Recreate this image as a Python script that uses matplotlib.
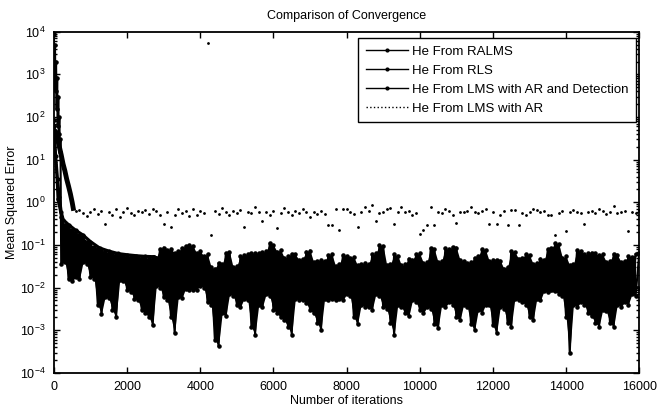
import numpy as np
import matplotlib
matplotlib.use('Agg')
import matplotlib.pyplot as plt
from matplotlib.lines import Line2D
from matplotlib.ticker import LogLocator, NullFormatter

plt.rcParams['font.family'] = ['Liberation Sans', 'DejaVu Sans']
plt.rcParams['mathtext.fontset'] = 'custom'
plt.rcParams['mathtext.rm'] = 'Liberation Sans'
plt.rcParams['mathtext.it'] = 'Liberation Sans'

# ---- data ----
# RALMS: sampled every 100 iterations (peaks / troughs of the noisy curve)
ralms_iter = np.arange(0, 16001, 100)
ralms_mse = [
    85, 1.2, 0.45, 0.04, 0.28, 0.014, 0.21, 0.016, 0.16, 0.035,
    0.11, 0.016, 0.085, 0.0024, 0.071, 0.0056, 0.063, 0.002, 0.058, 0.014,
    0.054, 0.0079, 0.051, 0.005, 0.05, 0.0025, 0.048, 0.0013, 0.05, 0.01,
    0.087, 0.005, 0.081, 0.00085, 0.071, 0.0056, 0.093, 0.0089, 0.095, 0.0089,
    0.071, 0.01, 0.06, 0.004, 0.028, 0.00042, 0.035, 0.0021, 0.068, 0.0063,
    0.032, 0.0035, 0.058, 0.005, 0.063, 0.00079, 0.063, 0.0035, 0.071, 0.0063,
    0.1, 0.0025, 0.076, 0.0017, 0.054, 0.00079, 0.06, 0.005, 0.047, 0.0043,
    0.074, 0.0025, 0.042, 0.001, 0.042, 0.005, 0.06, 0.005, 0.035, 0.005,
    0.055, 0.0063, 0.052, 0.0014, 0.035, 0.0035, 0.035, 0.003, 0.063, 0.0063,
    0.095, 0.0032, 0.035, 0.00079, 0.056, 0.0035, 0.035, 0.0021, 0.045, 0.0045,
    0.063, 0.0025, 0.04, 0.0032, 0.079, 0.0011, 0.042, 0.0035, 0.079, 0.004,
    0.087, 0.0017, 0.042, 0.0035, 0.04, 0.001, 0.054, 0.0025, 0.076, 0.0038,
    0.045, 0.00085, 0.043, 0.0032, 0.03, 0.0012, 0.068, 0.005, 0.05, 0.004,
    0.058, 0.0017, 0.038, 0.005, 0.045, 0.0079, 0.083, 0.0083, 0.105, 0.0063,
    0.054, 0.00029, 0.035, 0.0035, 0.071, 0.004, 0.063, 0.0021, 0.063, 0.0012,
    0.06, 0.0028, 0.042, 0.0012, 0.059, 0.0035, 0.042, 0.004, 0.052, 0.0063,
    0.063]

# RLS: smooth decay
rls_iter = [0, 50, 100, 150, 200, 256, 400, 600, 800, 1000, 1250, 1500, 1750,
            2000, 2250, 2500, 2750, 2800, 3000, 4000, 6000, 8000, 10000,
            12000, 13000, 13500, 14000, 15000, 16000]
rls_mse = [60, 12, 3.5, 1.3, 0.6, 0.39, 0.3, 0.22, 0.17, 0.12, 0.085, 0.072,
           0.063, 0.059, 0.056, 0.054, 0.053, 0.05, 0.025, 0.018, 0.014,
           0.012, 0.011, 0.01, 0.009, 0.0085, 0.008, 0.009, 0.01]

# LMS with AR and detection: large start, then every 100 iterations from 200
det_start_iter = [0, 15, 30, 45, 60, 75, 90, 105, 120, 135, 150, 165, 180]
det_start_mse = [9000, 1500, 5000, 400, 2000, 150, 800, 60, 300, 40, 100, 15, 30]
det_main_mse = [
    0.035, 0.3, 0.016, 0.22, 0.018, 0.17, 0.04, 0.12, 0.018, 0.088,
    0.004, 0.074, 0.006, 0.065, 0.003, 0.06, 0.015, 0.056, 0.009, 0.053,
    0.0055, 0.052, 0.003, 0.05, 0.002, 0.052, 0.011, 0.08, 0.006, 0.075,
    0.002, 0.065, 0.006, 0.085, 0.0095, 0.1, 0.009, 0.065, 0.011, 0.055,
    0.0045, 0.03, 0.0006, 0.038, 0.0025, 0.065, 0.007, 0.03, 0.004, 0.055,
    0.0055, 0.06, 0.0012, 0.065, 0.004, 0.068, 0.007, 0.11, 0.003, 0.07,
    0.002, 0.05, 0.0012, 0.062, 0.0055, 0.045, 0.005, 0.07, 0.003, 0.04,
    0.0015, 0.045, 0.0055, 0.057, 0.0055, 0.032, 0.0055, 0.058, 0.007, 0.05,
    0.002, 0.033, 0.004, 0.038, 0.0035, 0.06, 0.007, 0.1, 0.0035, 0.033,
    0.0015, 0.06, 0.004, 0.033, 0.0025, 0.048, 0.005, 0.06, 0.003, 0.038,
    0.0035, 0.085, 0.0014, 0.04, 0.004, 0.083, 0.0045, 0.09, 0.002, 0.045,
    0.004, 0.038, 0.0014, 0.05, 0.003, 0.08, 0.004, 0.042, 0.0013, 0.045,
    0.0035, 0.028, 0.0015, 0.072, 0.0055, 0.048, 0.0045, 0.06, 0.002, 0.036,
    0.0055, 0.048, 0.0085, 0.08, 0.009, 0.11, 0.007, 0.05, 0.002, 0.033,
    0.004, 0.075, 0.0045, 0.06, 0.0025, 0.066, 0.0015, 0.057, 0.003, 0.04,
    0.0015, 0.062, 0.004, 0.04, 0.0045, 0.055, 0.007, 0.06]
det_main_iter = np.arange(200, 15901, 100)
det_iter = np.concatenate([det_start_iter, det_main_iter])
det_mse = det_start_mse + det_main_mse

# LMS with AR: fast decay, then scattered dots every 100 iterations
ar_start_iter = [0, 50, 100, 150, 200, 250, 300, 350, 400, 450, 500, 530]
ar_start_mse = [50, 45, 30, 20, 13, 8, 5.5, 3.5, 2.4, 1.6, 1.0, 0.72]
ar_dots_iter = np.arange(600, 16001, 100)
ar_dots_mse = [
    0.62, 0.66, 0.55, 0.48, 0.6, 0.7, 0.52, 0.64, 0.31, 0.58,
    0.5, 0.68, 0.45, 0.6, 0.72, 0.55, 0.5, 0.62, 0.58, 0.66,
    0.54, 0.7, 0.64, 0.5, 0.31, 0.6, 0.26, 0.5, 0.68, 0.56,
    0.62, 0.48, 0.7, 0.5, 0.64, 0.55, 5500, 0.17, 0.64, 0.52,
    0.72, 0.58, 0.5, 0.62, 0.55, 0.66, 0.26, 0.6, 0.56, 0.76,
    0.58, 0.36, 0.6, 0.5, 0.64, 0.25, 0.55, 0.72, 0.6, 0.5,
    0.62, 0.55, 0.68, 0.58, 0.46, 0.6, 0.53, 0.64, 0.53, 0.3,
    0.29, 0.69, 0.23, 0.69, 0.69, 0.6, 0.52, 0.27, 0.6, 0.76,
    0.64, 0.87, 0.36, 0.55, 0.6, 0.69, 0.72, 0.31, 0.6, 0.76,
    0.58, 0.64, 0.5, 0.55, 0.18, 0.23, 0.3, 0.76, 0.3, 0.6,
    0.55, 0.69, 0.62, 0.5, 0.33, 0.6, 0.58, 0.64, 0.76, 0.6,
    0.55, 0.64, 0.69, 0.31, 0.6, 0.31, 0.5, 0.62, 0.29, 0.66,
    0.66, 0.29, 0.55, 0.5, 0.6, 0.69, 0.66, 0.58, 0.62, 0.5,
    0.5, 0.17, 0.55, 0.64, 0.21, 0.6, 0.66, 0.58, 0.55, 0.31,
    0.6, 0.64, 0.55, 0.69, 0.62, 0.52, 0.58, 0.8, 0.55, 0.6,
    0.64, 0.21, 0.6, 0.55, 0.66]

labels = ['He From RALMS', 'He From RLS', 'He From LMS with AR and Detection',
          'He From LMS with AR']

fig = plt.figure(figsize=(6.57, 4.12), dpi=100)
ax = fig.add_axes([0.082, 0.095, 0.891, 0.828])

# the two noisy curves overlap so densely that they read as one solid band
ralms_on_det = np.array(ralms_mse)[2:160]
det_arr = np.array(det_main_mse)
ax.fill_between(det_main_iter, np.minimum(ralms_on_det, det_arr),
                np.maximum(ralms_on_det, det_arr), color='k', lw=0)

ax.plot(ralms_iter, ralms_mse, '-', color='k', marker='.', ms=4.5, lw=1.5)
ax.plot(det_iter, det_mse, '-', color='k', marker='.', ms=4.5, lw=1.5)
ax.plot(rls_iter, rls_mse, '-', color='k', marker='.', ms=4, lw=2.2)
ax.plot(ar_start_iter, ar_start_mse, '-', color='k', lw=3.5)
ax.plot(ar_dots_iter, ar_dots_mse, ls='none', color='k', marker='.', ms=2)

ax.set_yscale('log')
ax.set_xlim(0, 16000)
ax.set_ylim(1e-4, 1e4)
ax.set_xticks(np.arange(0, 16001, 2000))
ax.set_yticks([10.0 ** k for k in range(-4, 5)])
ax.yaxis.set_minor_locator(LogLocator(base=10, subs=np.arange(2, 10), numticks=20))
ax.yaxis.set_minor_formatter(NullFormatter())
ax.tick_params(which='both', direction='in', top=True, right=True,
               labelsize=9, width=1)
ax.tick_params(which='major', length=4)
ax.tick_params(which='minor', length=2)
ax.tick_params(axis='x', pad=6)
ax.tick_params(axis='y', pad=6)
for s in ax.spines.values():
    s.set_linewidth(1.3)

ax.set_title('Comparison of Convergence', fontsize=9, pad=9)
ax.set_xlabel('Number of iterations', fontsize=9, labelpad=1)
ax.set_ylabel('Mean Squared Error', fontsize=9)
ax.yaxis.set_label_coords(-0.061, 0.5)

handles = [Line2D([], [], color='k', lw=1, marker='.', ms=4),
           Line2D([], [], color='k', lw=1, marker='.', ms=4),
           Line2D([], [], color='k', lw=1, marker='.', ms=4),
           Line2D([], [], color='k', lw=1, ls=':')]
leg = ax.legend(handles, labels, loc='upper right', bbox_to_anchor=(0.995, 0.982),
                fontsize=9.5, frameon=True, fancybox=False, edgecolor='k',
                framealpha=1, handlelength=3.2, labelspacing=0.5,
                borderpad=0.6, handletextpad=0.3, numpoints=1, borderaxespad=0)
leg.get_frame().set_linewidth(1)

plt.savefig('out.png', dpi=100)
plt.close()
